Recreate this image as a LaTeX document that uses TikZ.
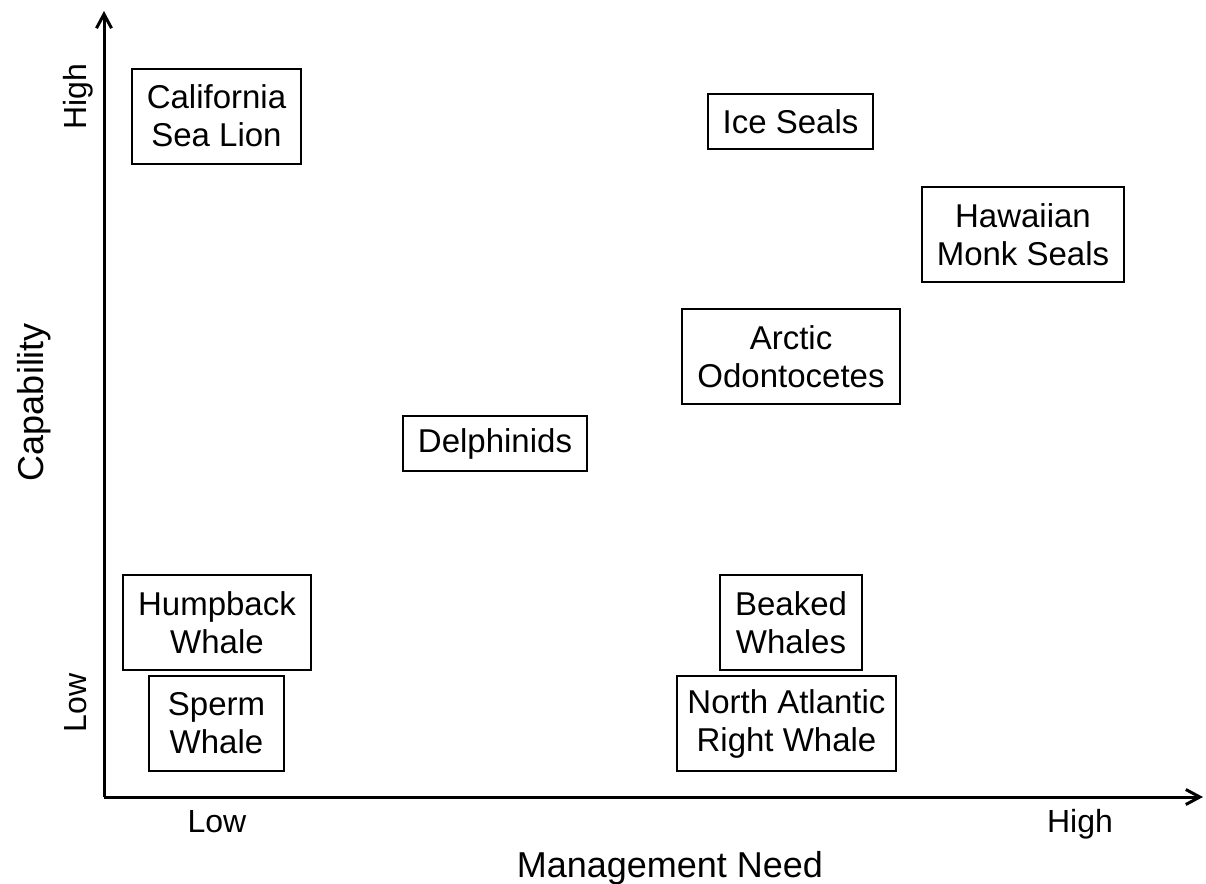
\documentclass[tikz,border=0pt]{standalone}
\usepackage{fontspec}
\setmainfont{Liberation Sans}
\usepackage{tikz}
\usetikzlibrary{positioning,arrows.meta}
\tikzset{
  specbox/.style={rectangle,draw,line width=1pt,align=center,inner xsep=7.5pt,inner ysep=2pt,
    minimum height=27.5pt,font=\fontsize{16.5}{19}\selectfont},
  specbox2/.style={specbox,minimum height=47.5pt},
  ticklabel/.style={anchor=base,inner sep=0pt,font=\fontsize{16}{19}\selectfont},
  axislabel/.style={anchor=base,inner sep=0pt,font=\fontsize{18}{21}\selectfont},
  axisline/.style={line width=1.5pt,-{Straight Barb[length=7pt,width=7.5pt]}}
}

\begin{document}
\begin{tikzpicture}[x=0.5pt,y=-0.5pt]
            \useasboundingbox (0,0) rectangle (1206,884);
            % axes
            \coordinate (O) at (104,797);
            \coordinate (ytip) at (104,11);
            \coordinate (xtip) at (1203,797);
            \draw[axisline] (O) -- (ytip);
            \draw[axisline] (O) -- (xtip);
            \node[ticklabel,rotate=90] (yhigh) at (86,97) {High};
            \node[ticklabel,rotate=90] (ylow) at (86,703) {Low};
            \node[ticklabel] (xlow) at (217,832) {Low};
            \node[ticklabel] (xhigh) at (1080,832) {High};
            \node[axislabel,rotate=90] (ytitle) at (43,402) {Capability};
            \node[axislabel] (xtitle) at (670,877) {Management Need};
            % species
            \node[specbox2] (sealion) at (216.5,116) {California\\Sea Lion};
            \node[specbox] (iceseals) at (790.5,121.5) {Ice Seals};
            \node[specbox2] (monkseals) at (1023,234.5) {Hawaiian\\Monk Seals};
            \node[specbox2] (arctic) at (791,356.5) {Arctic\\Odontocetes};
            \node[specbox] (delph) at (495,443.5) {Delphinids};
            \node[specbox2] (humpback) at (217,622.5) {Humpback\\Whale};
            \node[specbox2,minimum width=67.5pt] (sperm) at (216.5,723.5) {Sperm\\Whale};
            \node[specbox2] (beaked) at (791,622.5) {Beaked\\Whales};
            \node[specbox2,inner xsep=5.25pt] (narw) at (786.5,723.5) {North Atlantic\\Right Whale};
        \end{tikzpicture}
\end{document}
